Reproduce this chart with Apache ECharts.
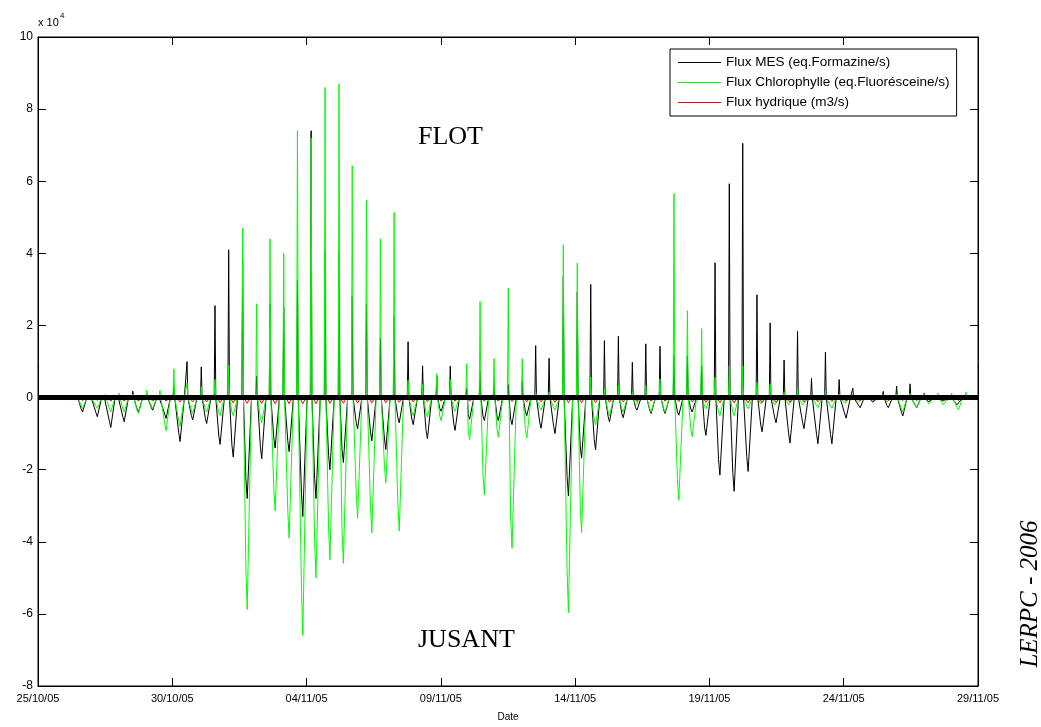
<!DOCTYPE html>
<html>
<head>
<meta charset="utf-8">
<script src="https://cdn.jsdelivr.net/npm/echarts@6/dist/echarts.min.js"></script>
<style>
html,body{margin:0;padding:0;background:#fff;}
#chart{width:1041px;height:727px;}
</style>
</head>
<body>
<div id="chart"></div>
<script>
// x values: days since 25/10/2005 00:00 ; y values in units of 10^4
const dateLabels = ['25/10/05','30/10/05','04/11/05','09/11/05','14/11/05','19/11/05','24/11/05','29/11/05'];
const seriesNames = ['Flux MES (eq.Formazine/s)','Flux Chlorophylle (eq.Fluorésceine/s)','Flux hydrique (m3/s)'];

// ebb (jusant) extremes, one per tide
const troughDays = [1.66,2.21,2.71,3.21,3.74,4.27,4.77,5.29,5.76,6.28,
  6.78,7.27,7.79,8.33,8.83,9.35,9.86,10.35,10.87,11.37,
  11.90,12.43,12.95,13.45,13.97,14.50,15.01,15.53,16.07,16.62,
  17.14,17.65,18.20,18.73,19.25,19.75,20.24,20.76,21.28,21.79,
  22.30,22.83,23.35,23.86,24.36,24.87,25.39,25.92,26.44,26.96,
  27.48,28.00,28.52,29.04,29.56,30.09,30.61,31.13,31.66,32.20,
  32.72,33.21,33.75,34.27];
// flood (flot) extremes, one after each ebb
const peakDays = [2.01,2.50,3.02,3.53,4.05,4.54,5.06,5.55,6.08,6.59,
  7.10,7.62,8.14,8.64,9.15,9.66,10.17,10.69,11.21,11.70,
  12.23,12.75,13.26,13.78,14.32,14.85,15.35,15.96,16.46,16.98,
  17.51,18.03,18.53,19.03,19.56,20.08,20.58,21.09,21.61,22.13,
  22.63,23.16,23.68,24.18,24.71,25.21,25.74,26.24,26.77,27.26,
  27.78,28.28,28.80,29.32,29.83,30.34,30.87,31.47,31.97,32.47,
  33.00,33.51,34.02,34.55];

const mesTroughs = [-0.40,-0.53,-0.83,-0.67,-0.40,-0.35,-0.58,-1.22,-0.62,-0.72,
  -1.30,-1.65,-2.80,-1.70,-1.40,-1.50,-3.30,-2.80,-2.00,-1.80,
  -0.87,-1.20,-1.44,-0.70,-0.75,-1.14,-0.38,-0.91,-0.60,-0.64,
  -0.64,-0.75,-0.50,-0.85,-1.00,-2.73,-1.68,-1.45,-0.67,-0.56,
  -0.35,-0.44,-0.44,-0.49,-0.40,-1.05,-2.15,-2.60,-2.05,-0.95,
  -0.70,-1.26,-0.86,-1.28,-1.28,-0.57,-0.28,-0.16,-0.28,-0.51,
  -0.28,-0.15,-0.12,-0.25];
const mesPeaks = [0.05,0.05,0.03,0.18,0.10,0.05,0.30,1.00,0.85,2.55,
  4.10,3.80,0.60,2.60,2.50,3.25,7.40,4.10,4.00,2.80,
  2.60,1.64,2.24,1.55,0.88,0.60,0.87,0.25,0.74,0.38,
  0.36,0.46,1.44,1.09,3.37,2.93,3.14,1.58,1.70,0.98,
  1.49,1.42,1.17,1.16,0.88,3.74,5.93,7.05,2.85,2.07,
  1.04,1.84,0.53,1.26,0.50,0.26,0.05,0.17,0.32,0.38,
  0.12,0.05,0.05,0.05];

const chlTroughs = [-0.30,-0.30,-0.40,-0.40,-0.44,-0.30,-0.92,-0.80,-0.44,-0.40,
  -0.50,-0.50,-5.88,-0.70,-3.14,-3.90,-6.60,-5.00,-4.50,-4.60,
  -3.35,-3.75,-2.37,-3.70,-0.50,-0.54,-0.64,-0.38,-1.17,-2.70,
  -1.10,-4.18,-1.12,-0.35,-0.35,-5.97,-3.74,-0.76,-0.50,-0.40,
  -0.26,-0.40,-0.40,-2.85,-1.09,-0.31,-0.50,-0.50,-0.31,-0.22,
  -0.25,-0.25,-0.25,-0.28,-0.30,-0.20,-0.15,-0.10,-0.15,-0.40,
  -0.28,-0.22,-0.25,-0.34];
const chlPeaks = [0.05,0.08,0.12,0.10,0.20,0.20,0.80,0.40,0.30,0.50,
  0.90,4.70,2.60,4.40,4.00,7.40,7.20,8.60,8.70,6.43,
  5.47,4.40,5.13,0.48,0.36,0.66,0.50,0.94,2.66,1.08,
  3.03,1.08,0.16,0.15,4.24,3.73,0.57,0.25,0.34,0.16,
  0.34,0.52,5.66,2.41,1.91,0.56,0.88,0.88,0.42,0.38,
  0.15,0.28,0.10,0.19,0.10,0.08,0.05,0.08,0.10,0.12,
  0.10,0.12,0.12,0.15];

const hydTroughs = [-0.08,-0.08,-0.10,-0.10,-0.10,-0.10,-0.10,-0.12,-0.12,-0.12,
  -0.14,-0.15,-0.16,-0.16,-0.17,-0.17,-0.17,-0.17,-0.16,-0.16,
  -0.15,-0.15,-0.14,-0.13,-0.12,-0.11,-0.10,-0.10,-0.10,-0.10,
  -0.10,-0.11,-0.12,-0.12,-0.13,-0.14,-0.14,-0.14,-0.13,-0.12,
  -0.11,-0.10,-0.10,-0.11,-0.12,-0.13,-0.14,-0.15,-0.15,-0.14,
  -0.14,-0.13,-0.12,-0.12,-0.11,-0.10,-0.09,-0.08,-0.08,-0.08,
  -0.08,-0.08,-0.08,-0.08];

function tideLine(troughV, peakV){
  const pts = [[troughDays[0]-0.18, 0]];
  for (let i = 0; i < troughDays.length; i++){
    pts.push([troughDays[i]-0.05, troughV[i]*0.8]);
    pts.push([troughDays[i], troughV[i]]);
    pts.push([troughDays[i]+0.16, 0]);
    pts.push([peakDays[i]-0.03, 0]);
    pts.push([peakDays[i], peakV[i]]);
    pts.push([peakDays[i]+0.03, 0]);
  }
  pts.push([peakDays[peakDays.length-1]+0.15, 0]);
  return pts;
}
function hydLine(troughV){
  const pts = [];
  for (let i = 0; i < troughDays.length; i++){
    pts.push([troughDays[i]-0.12, 0]);
    pts.push([troughDays[i], troughV[i]]);
    pts.push([troughDays[i]+0.12, 0]);
  }
  return pts;
}

const chart = echarts.init(document.getElementById('chart'), null, {renderer:'canvas'});
const sans = '"Liberation Sans", Arial, sans-serif';
const serif = '"Liberation Serif", "Times New Roman", serif';
const tickStyle = {show:true, inside:true, length:8, lineStyle:{color:'#000', width:1}};
const axisLineStyle = {show:true, onZero:false, lineStyle:{color:'#000', width:1}};
const lineCommon = {type:'line', symbol:'none', showSymbol:false, animation:false, sampling:null};

chart.setOption({
  animation:false,
  backgroundColor:'#fff',
  grid:{left:38, right:63, top:37, bottom:34, show:true, borderColor:'#000', borderWidth:1, backgroundColor:'transparent'},
  legend:{
    data:seriesNames, orient:'vertical', left:670, top:49,
    padding:[6,7,6,8], itemGap:5, itemWidth:43, itemHeight:1, icon:'rect',
    borderColor:'#000', borderWidth:1, backgroundColor:'#fff', borderRadius:0,
    textStyle:{fontFamily:sans, fontSize:13.5, color:'#000', lineHeight:15},
    selectedMode:false, z:20
  },
  xAxis:[
    {type:'value', min:0, max:35, interval:5, position:'bottom',
     axisLine:axisLineStyle, axisTick:tickStyle,
     splitLine:{show:false},
     axisLabel:{color:'#000', fontFamily:sans, fontSize:11, margin:7,
       formatter:function(v){return dateLabels[Math.round(v/5)];}},
     name:'Date', nameLocation:'middle', nameGap:26,
     nameTextStyle:{color:'#000', fontFamily:sans, fontSize:10}},
    {type:'value', min:0, max:35, interval:5, position:'top',
     axisLine:axisLineStyle, axisTick:tickStyle,
     axisLabel:{show:false}, splitLine:{show:false}}
  ],
  yAxis:[
    {type:'value', min:-8, max:10, interval:2, position:'left',
     axisLine:axisLineStyle, axisTick:tickStyle,
     splitLine:{show:false},
     axisLabel:{color:'#000', fontFamily:sans, fontSize:12, margin:5}},
    {type:'value', min:-8, max:10, interval:2, position:'right',
     axisLine:axisLineStyle, axisTick:tickStyle,
     axisLabel:{show:false}, splitLine:{show:false}}
  ],
  series:[
    Object.assign({}, lineCommon, {name:seriesNames[0], data:tideLine(mesTroughs, mesPeaks),
      lineStyle:{color:'#000000', width:1}, itemStyle:{color:'#000000'}, z:2}),
    Object.assign({}, lineCommon, {name:seriesNames[1], data:tideLine(chlTroughs, chlPeaks),
      lineStyle:{color:'#00ff00', width:1}, itemStyle:{color:'#00ff00'}, z:3}),
    Object.assign({}, lineCommon, {name:seriesNames[2], data:hydLine(hydTroughs),
      lineStyle:{color:'#ff0000', width:1}, itemStyle:{color:'#ff0000'}, z:4}),
    Object.assign({}, lineCommon, {name:'zero', data:[[0,0],[35,0]], silent:true,
      xAxisIndex:1, yAxisIndex:1,
      lineStyle:{color:'#000000', width:5}, itemStyle:{color:'#000000'}, z:5})
  ],
  graphic:[
    {type:'text', left:38, top:17, style:{text:'x 10', font:'11px '+sans, fill:'#000'}},
    {type:'text', left:60, top:12, style:{text:'4', font:'8px '+sans, fill:'#000'}},
    {type:'text', x:418, y:137, style:{text:'FLOT', font:'26px '+serif, fill:'#000', textVerticalAlign:'middle'}},
    {type:'text', x:418, y:640, style:{text:'JUSANT', font:'26px '+serif, fill:'#000', textVerticalAlign:'middle'}},
    {type:'text', x:1030, y:594, rotation:Math.PI/2,
     style:{text:'LERPC - 2006', font:'italic 25px '+serif, fill:'#000', textAlign:'center', textVerticalAlign:'middle'}}
  ]
});
</script>
</body>
</html>
